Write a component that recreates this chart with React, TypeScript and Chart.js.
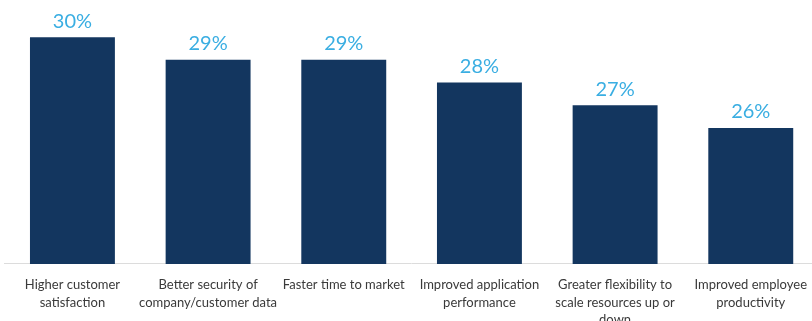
import React, { useEffect, useRef } from "react";
import { Chart, registerables } from "chart.js";

Chart.register(...registerables);

const categories: string[][] = [
  ["Higher customer", "satisfaction"],
  ["Better security of", "company/customer data"],
  ["Faster time to market"],
  ["Improved application", "performance"],
  ["Greater flexibility to", "scale resources up or", "down"],
  ["Improved employee", "productivity"],
];
const values: number[] = [30, 29, 29, 28, 27, 26];
const valueLabels: string[] = ["30%", "29%", "29%", "28%", "27%", "26%"];

const FONT = "Lato, 'Open Sans', sans-serif";

const labelPlugin = {
  id: "valueLabels",
  afterDatasetsDraw(chart: any) {
    const ctx = chart.ctx;
    const meta = chart.getDatasetMeta(0);
    ctx.save();
    ctx.fillStyle = "#3aaee2";
    ctx.font = `20px ${FONT}`;
    ctx.textAlign = "center";
    ctx.textBaseline = "alphabetic";
    meta.data.forEach((bar: any, i: number) => {
      ctx.fillText(valueLabels[i], bar.x, bar.y - 9.5);
    });
    ctx.restore();
  },
};

export default function App() {
  const ref = useRef<HTMLCanvasElement>(null);
  useEffect(() => {
    if (!ref.current) return;
    const chart = new Chart(ref.current, {
      type: "bar",
      data: {
        labels: categories,
        datasets: [
          {
            data: values,
            backgroundColor: "#13365f",
            barPercentage: 0.626,
            categoryPercentage: 1,
          },
        ],
      },
      options: {
        animation: false,
        responsive: false,
        maintainAspectRatio: false,
        layout: { padding: { left: 4.6, right: 1.4, top: 0, bottom: 0 } },
        plugins: { legend: { display: false }, tooltip: { enabled: false } },
        scales: {
          y: { display: false, min: 20, max: 31.64 },
          x: {
            grid: { display: false },
            border: { display: true, color: "#dcdcdc", width: 1 },
            ticks: {
              color: "#3a3a3a",
              font: { family: FONT, size: 13, lineHeight: 1.36 },
              padding: 4,
              maxRotation: 0,
              autoSkip: false,
            },
          },
        },
      },
      plugins: [labelPlugin],
    });
    return () => chart.destroy();
  }, []);
  return (
    <div style={{ position: "fixed", left: 0, top: 0, width: 812, height: 321, overflow: "hidden", background: "#fff" }}>
      <canvas ref={ref} width={820} height={333} style={{ display: "block" }} />
    </div>
  );
}
